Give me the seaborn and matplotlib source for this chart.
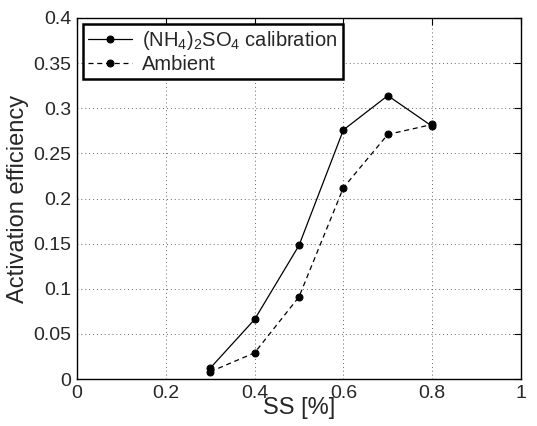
import matplotlib
matplotlib.use("Agg")
import matplotlib.pyplot as plt
import seaborn as sns
import pandas as pd

ss = [0.3, 0.4, 0.5, 0.6, 0.7, 0.8]
calibration = [0.012, 0.066, 0.148, 0.276, 0.314, 0.280]
ambient = [0.008, 0.029, 0.091, 0.212, 0.271, 0.282]
series_names = ["(NH$_4$)$_2$SO$_4$ calibration", "Ambient"]
xticks = [0, 0.2, 0.4, 0.6, 0.8, 1]
yticks = [0, 0.05, 0.1, 0.15, 0.2, 0.25, 0.3, 0.35, 0.4]

sns.set_style("white")
plt.rcParams['font.family'] = ['Liberation Sans', 'DejaVu Sans']
plt.rcParams['mathtext.fontset'] = 'custom'
plt.rcParams['mathtext.rm'] = 'Liberation Sans'
plt.rcParams['mathtext.it'] = 'Liberation Sans'

df = pd.DataFrame({
    "SS": ss * 2,
    "eff": calibration + ambient,
    "series": [series_names[0]] * len(ss) + [series_names[1]] * len(ss),
})

fig = plt.figure(figsize=(5.37, 4.26), dpi=100)
ax = fig.add_axes([77/537, 1 - 379/426, (521-77)/537, (379-18)/426])

sns.lineplot(data=df, x="SS", y="eff", hue="series", style="series",
             palette=["black", "black"], dashes=[(None, None), (4, 3)],
             markers=["o", "o"], markersize=5, markeredgecolor="black",
             linewidth=0.9, ax=ax, legend=False)
lines = ax.get_lines()
lines[0].set_linestyle("-")
lines[1].set_dashes([4, 3])

ax.set_xlim(0, 1)
ax.set_ylim(0, 0.4)
ax.set_xticks(xticks)
ax.set_xticklabels(["0", "0.2", "0.4", "0.6", "0.8", "1"])
ax.set_yticks(yticks)
ax.set_yticklabels(["0", "0.05", "0.1", "0.15", "0.2", "0.25", "0.3", "0.35", "0.4"])
ax.grid(True, linestyle=(0, (1, 3)), color="#666666", linewidth=0.7)
ax.tick_params(direction="in", top=True, right=True, length=5, width=0.8,
               labelsize=14, color="black")
ax.tick_params(axis="x", pad=4)
ax.tick_params(axis="y", pad=4)
for s in ax.spines.values():
    s.set_visible(True)
    s.set_color("black")
    s.set_linewidth(1.0)
ax.set_xlabel("SS [%]", fontsize=17, labelpad=-3)
ax.set_ylabel("Activation efficiency", fontsize=17, labelpad=3)

leg = ax.legend(lines[:2], series_names, loc="upper left", fontsize=14.5,
                frameon=True, fancybox=False, borderaxespad=0.3,
                handlelength=2.2, handletextpad=0.5, borderpad=0.25,
                labelspacing=0.15)
leg.get_frame().set_edgecolor("black")
leg.get_frame().set_linewidth(1.8)
leg.get_frame().set_alpha(1)

fig.savefig("out.png", dpi=100)
